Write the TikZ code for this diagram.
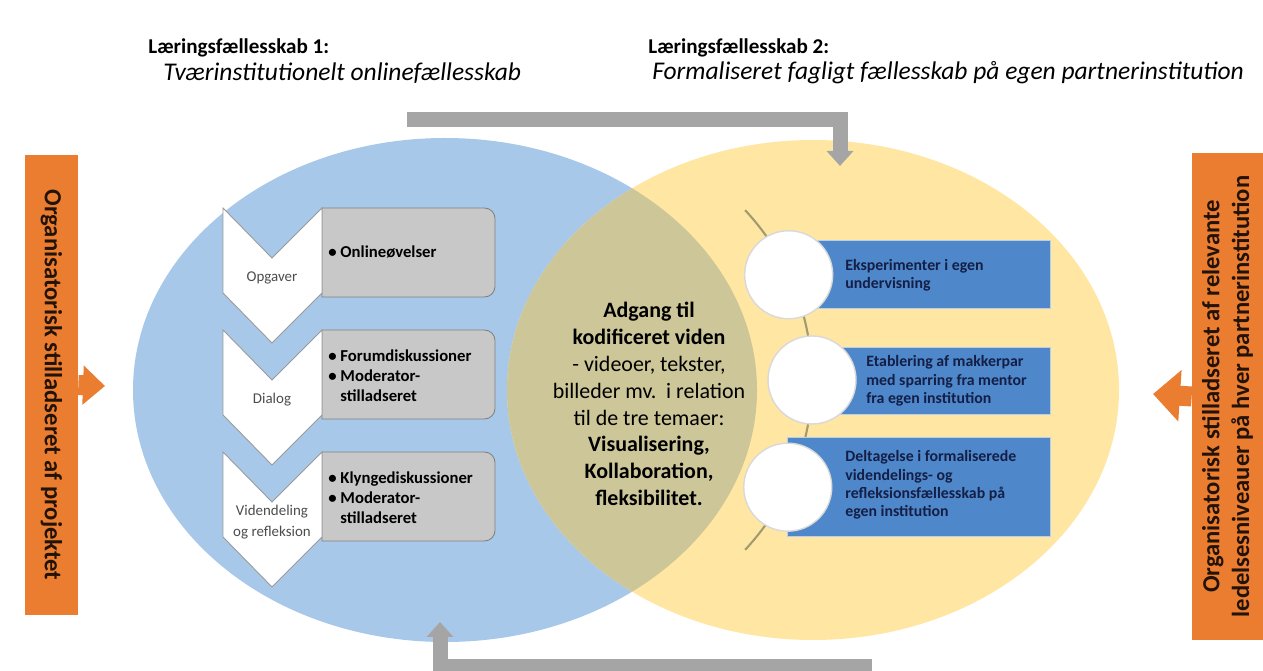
\documentclass[tikz,border=0pt]{standalone}
\usepackage{fontspec}
\setmainfont{Carlito}
\usetikzlibrary{arrows.meta}

\definecolor{ellblue}{RGB}{168,200,233}
\definecolor{ellyellow}{RGB}{255,230,162}
\definecolor{lensolive}{RGB}{204,198,152}
\definecolor{orng}{RGB}{235,125,49}
\definecolor{arrgray}{RGB}{165,165,165}
\definecolor{listgray}{RGB}{200,200,200}
\definecolor{barblue}{RGB}{78,136,202}
\definecolor{arcolive}{RGB}{160,156,112}
\definecolor{navy}{RGB}{20,30,70}

\begin{document}
\begin{tikzpicture}[
  x=0.02cm, y=-0.02cm,
  ttl/.style={anchor=west, inner sep=0pt, font=\fontsize{12}{14}\selectfont\bfseries},
  sub/.style={anchor=west, inner sep=0pt, font=\fontsize{14.5}{16}\selectfont\itshape},
  obox/.style={fill=orng, inner sep=0pt, align=center, text=black!85!orng,
               font=\fontsize{14}{17}\selectfont\bfseries},
  oarr/.style={orng, line width=0.4cm, -{Triangle[length=0.44cm, width=0.76cm]}},
  garr/.style={arrgray, line width=0.3cm, -{Triangle[length=0.3cm, width=0.52cm]}},
  chev/.style={fill=white, draw=gray!80, line width=0.5pt},
  lst/.style={fill=listgray, draw=gray, line width=0.5pt},
  chlab/.style={align=center, inner sep=0pt, text=black!70,
                font=\fontsize{8.5}{11.5}\selectfont},
  lsttxt/.style={anchor=west, align=left, inner sep=0pt,
                 font=\fontsize{9.5}{11.3}\selectfont\bfseries},
  bar/.style={fill=barblue, draw=barblue!40!white, line width=0.5pt},
  bartxt/.style={anchor=west, align=left, inner sep=0pt, text=navy,
                 font=\fontsize{9}{10.4}\selectfont\bfseries},
  rnd/.style={circle, fill=white, draw=black!15, line width=0.8pt,
              minimum size=1.76cm, inner sep=0pt},
]
\useasboundingbox (0,0) rectangle (1263,671);

% titles
\node[ttl] (lf1) at (148,48) {Læringsfællesskab 1:};
\node[sub] (lf1sub) at (163,73) {Tværinstitutionelt onlinefællesskab};
\node[ttl] (lf2) at (648,48) {Læringsfællesskab 2:};
\node[sub] (lf2sub) at (652,73) {Formaliseret fagligt fællesskab på egen partnerinstitution};

% the two communities
\fill[ellblue] (445,390) ellipse [x radius=312, y radius=252];
\fill[ellyellow] (813,390) ellipse [x radius=306, y radius=250];
\begin{scope}
  \clip (445,390) ellipse [x radius=312, y radius=252];
  \fill[lensolive] (813,390) ellipse [x radius=306, y radius=250];
\end{scope}

% gray loop arrows
\coordinate (topstart) at (407,120);
\coordinate (topend) at (840,166);
\draw[garr] (topstart) -| (topend);
\coordinate (botstart) at (872,666);
\coordinate (botend) at (440,622);
\draw[garr] (botstart) -| (botend);

% chevron list
\foreach \i/\lab in {0/Opgaver, 1/Dialog, 2/{Videndeling\\og refleksion}} {
  \pgfmathsetmacro\ytop{208+122*\i}
  \draw[lst] (322,\ytop+89) -- (322,\ytop) [rounded corners=6pt] -- (495,\ytop)
        -- (495,\ytop+89) [sharp corners] -- cycle;
  \draw[chev] (223,\ytop) -- (272,\ytop+50) -- (322,\ytop) -- (322,\ytop+85)
        -- (272,\ytop+135) -- (223,\ytop+85) -- cycle;
  \node[chlab] (chev\i) at (272,\ytop+70) {\lab};
}
\node[lsttxt] (list1) at (328,252) {\textbullet\ Onlineøvelser};
\node[lsttxt] (list2) at (328,376) {\textbullet\ Forumdiskussioner\\
      \textbullet\ Moderator-\\\phantom{\textbullet\ }stilladseret};
\node[lsttxt] (list3) at (328,498) {\textbullet\ Klyngediskussioner\\
      \textbullet\ Moderator-\\\phantom{\textbullet\ }stilladseret};

% shared knowledge
\node[align=center, inner sep=0pt, font=\fontsize{12.5}{15.3}\selectfont] (adgang)
     at (649,404) {\textbf{Adgang til}\\\textbf{kodificeret viden}\\
     - videoer, tekster,\\billeder mv.\ \ i relation\\til de tre temaer:\\
     \textbf{Visualisering,}\\\textbf{Kollaboration,}\\\textbf{fleksibilitet.}};

% circle list
\coordinate (arcc) at (563,380);
\draw[arcolive, line width=1.2pt] (arcc) ++(-43:249)
      arc[start angle=-43, end angle=43, radius=249];
\draw[bar] (789,240) rectangle (1050,308);
\draw[bar] (812,347) rectangle (1050,414);
\draw[bar] (787,437) rectangle (1050,536);
\path (arcc) ++(-25:249) node[rnd] (c1) {};
\path (arcc) ++(0:249) node[rnd] (c2) {};
\path (arcc) ++(25.5:249) node[rnd] (c3) {};
\node[bartxt] (eksp) at (845,275) {Eksperimenter i egen\\undervisning};
\node[bartxt] (makker) at (866,381) {Etablering af makkerpar\\med sparring fra mentor\\fra egen institution};
\node[bartxt] (delt) at (845,485) {Deltagelse i formaliserede\\videndelings- og\\refleksionsfællesskab på\\egen institution};

% organisational scaffolding
\node[obox, rotate=-90, minimum width=9.2cm, minimum height=1.06cm] (lbox)
     at (51.5,385) {Organisatorisk stilladseret af projektet};
\coordinate (ltip) at (105,386);
\draw[oarr] (lbox.north) -- (ltip);
\node[obox, rotate=90, minimum width=9.74cm, minimum height=1.42cm] (rbox)
     at (1227.5,396.5) {Organisatorisk stilladseret af relevante\\
     ledelsesniveauer på hver partnerinstitution};
\coordinate (rtip) at (1153,394);
\draw[oarr, -{Triangle[length=0.54cm, width=1cm]}] (rbox.north) -- (rtip);

\end{tikzpicture}
\end{document}
